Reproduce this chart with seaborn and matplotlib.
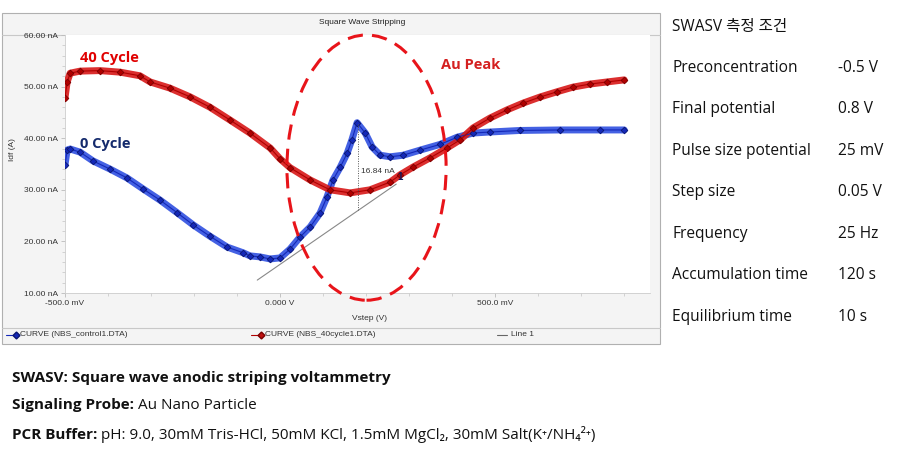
import numpy as np
import pandas as pd
import matplotlib
matplotlib.use("Agg")
import matplotlib.pyplot as plt
import seaborn as sns
from matplotlib.patches import Ellipse, Rectangle
from matplotlib.lines import Line2D
from matplotlib.ticker import FixedLocator, MultipleLocator

# ---------------- data ----------------
v_control = [-0.500, -0.495, -0.488, -0.465, -0.435, -0.395, -0.356, -0.319, -0.279,
             -0.240, -0.202, -0.163, -0.123, -0.086, -0.070, -0.047, -0.023, 0.000,
             0.023, 0.047, 0.070, 0.093, 0.109, 0.123, 0.140, 0.156, 0.167, 0.179,
             0.198, 0.214, 0.233, 0.256, 0.286, 0.326, 0.372, 0.412, 0.449, 0.488,
             0.558, 0.651, 0.744, 0.800]
i_control = [34.8, 37.7, 37.9, 37.3, 35.6, 34.0, 32.3, 30.2, 28.0,
             25.6, 23.2, 21.0, 18.9, 17.8, 17.2, 17.0, 16.6, 16.8,
             18.5, 20.9, 22.8, 25.5, 28.6, 31.9, 34.4, 37.1, 39.7, 43.0,
             41.0, 38.3, 36.7, 36.4, 36.7, 37.7, 38.8, 40.2, 41.0, 41.2,
             41.5, 41.6, 41.6, 41.6]

v_40cycle = [-0.500, -0.495, -0.488, -0.465, -0.419, -0.372, -0.326, -0.302, -0.256,
             -0.209, -0.163, -0.116, -0.070, -0.023, 0.000, 0.023, 0.070, 0.116,
             0.163, 0.209, 0.256, 0.279, 0.309, 0.349, 0.388, 0.419, 0.449, 0.488,
             0.528, 0.565, 0.605, 0.644, 0.681, 0.721, 0.760, 0.800]
i_40cycle = [47.8, 50.9, 52.6, 53.0, 53.1, 52.8, 52.1, 50.9, 49.7,
             48.0, 46.0, 43.5, 41.0, 38.1, 36.0, 34.3, 31.9, 30.0,
             29.4, 30.0, 31.5, 32.9, 34.4, 36.2, 38.1, 39.7, 42.0, 43.9,
             45.5, 46.8, 48.0, 49.0, 49.9, 50.5, 50.9, 51.3]

baseline_v = [-0.053, 0.270]
baseline_i = [12.5, 31.1]
peak_v = 0.181
peak_top = 43.0
peak_base = 26.0
peak_label = "16.84 nA"

x_major = [-0.5, 0.0, 0.5]
x_major_labels = ["-500.0 mV", "0.000 V", "500.0 mV"]
y_major = [10, 20, 30, 40, 50, 60]
y_major_labels = ["10.00 nA", "20.00 nA", "30.00 nA", "40.00 nA", "50.00 nA", "60.00 nA"]

series_names = ["CURVE (NBS_control1.DTA)", "CURVE (NBS_40cycle1.DTA)"]
cond_title = "SWASV 측정 조건"
cond_names = ["Preconcentration", "Final potential", "Pulse size potential",
              "Step size", "Frequency", "Accumulation time", "Equilibrium time"]
cond_values = ["-0.5 V", "0.8 V", "25 mV", "0.05 V", "25 Hz", "120 s", "10 s"]

# ---------------- figure ----------------
sns.set_theme(style="white")
plt.rcParams["font.family"] = ["Liberation Sans", "DejaVu Sans"]

W, H = 915, 451
fig = plt.figure(figsize=(W / 100, H / 100), dpi=100)
fig.patch.set_facecolor("white")


def fx(px):
    return px / W


def fy(py):
    return 1 - py / H


# chart panel
fig.add_artist(Rectangle((fx(2), fy(344)), fx(660) - fx(2), fy(13) - fy(344),
                         transform=fig.transFigure, facecolor="#f4f4f4",
                         edgecolor="#b0b0b0", lw=0.8, zorder=-5))
fig.add_artist(Line2D([fx(2), fx(660)], [fy(35), fy(35)], transform=fig.transFigure,
                      color="#c8c8c8", lw=0.8, zorder=-4))
fig.add_artist(Line2D([fx(2), fx(660)], [fy(328), fy(328)], transform=fig.transFigure,
                      color="#c8c8c8", lw=0.8, zorder=-4))
fig.text(fx(362), fy(23), "Square Wave Stripping", ha="center", va="center",
         fontsize=6, color="#222222")

ax = fig.add_axes([fx(65), fy(293), fx(650) - fx(65), fy(35) - fy(293)])
ax.set_facecolor("white")

df = pd.DataFrame({
    "V": v_control + v_40cycle,
    "I": i_control + i_40cycle,
    "curve": [series_names[0]] * len(v_control) + [series_names[1]] * len(v_40cycle),
})
band_pal = {series_names[0]: "#3050e0", series_names[1]: "#d81818"}
sns.lineplot(data=df, x="V", y="I", hue="curve", palette=band_pal, sort=False,
             estimator=None, lw=5, legend=False, ax=ax, zorder=3, alpha=0.9)
sns.lineplot(data=df, x="V", y="I", hue="curve", palette={series_names[0]: "#1428b8",
             series_names[1]: "#b00000"}, sort=False, estimator=None, lw=0.8,
             marker="D", markersize=3.4, markeredgewidth=0.6, legend=False, ax=ax,
             zorder=4)
for ln, ec in zip(ax.lines[-2:], ["#0a1670", "#7a0000"]):
    ln.set_markeredgecolor(ec)

# baseline and peak height
ax.plot(baseline_v, baseline_i, color="#888888", lw=0.8, zorder=5)
ax.plot([peak_v, peak_v], [peak_base, peak_top], color="#555555", lw=0.7,
        ls=(0, (1, 1.5)), zorder=5)
ax.text(peak_v + 0.006, 33.6, peak_label, fontsize=6, color="#333333", zorder=6,
        ha="left", va="center")
ax.text(0.272, 32.5, "1", fontsize=7, color="#101a60", zorder=6, ha="left",
        va="center", fontweight="bold")

ax.set_xlim(-0.5, 0.860)
ax.set_ylim(10, 60)
ax.xaxis.set_major_locator(FixedLocator(x_major))
ax.set_xticklabels(x_major_labels)
ax.xaxis.set_minor_locator(MultipleLocator(0.1))
ax.yaxis.set_major_locator(FixedLocator(y_major))
ax.set_yticklabels(y_major_labels)
ax.yaxis.set_minor_locator(MultipleLocator(2))
ax.tick_params(axis="both", which="major", labelsize=6, colors="#bbbbbb",
               labelcolor="#333333", length=3, width=0.6, direction="out", pad=2)
ax.tick_params(axis="both", which="minor", colors="#cccccc", length=2, width=0.6,
               direction="out")
ax.tick_params(axis="x", which="both", bottom=True)
ax.tick_params(axis="y", which="both", left=True)
for s in ["top", "right"]:
    ax.spines[s].set_visible(False)
for s in ["left", "bottom"]:
    ax.spines[s].set_color("#cccccc")
    ax.spines[s].set_linewidth(0.6)
ax.set_xlabel("")
ax.set_ylabel("")
fig.text(fx(370), fy(318), "Vstep (V)", ha="center", va="center", fontsize=6,
         color="#333333")
fig.text(fx(13), fy(150), "Idf (A)", ha="center", va="center", fontsize=6,
         color="#333333", rotation=90)

# annotations on chart
ann_font = ["Open Sans", "DejaVu Sans"]
ax.text(-0.465, 55.5, "40 Cycle", color="#e00000", fontsize=10.5, fontweight="bold",
        family=ann_font, ha="left", va="center", zorder=7)
ax.text(-0.465, 38.8, "0 Cycle", color="#142a6c", fontsize=10.5, fontweight="bold",
        family=ann_font, ha="left", va="center", zorder=7)
ax.text(0.375, 54.2, "Au Peak", color="#d42020", fontsize=10.5, fontweight="bold",
        family=ann_font, ha="left", va="center", zorder=7)
ell = Ellipse((0.201, 34.3), width=0.370, height=51.4, fill=False,
              edgecolor="#e8141a", lw=2.2, ls=(0, (5, 3)), clip_on=False, zorder=8)
ax.add_patch(ell)

# legend row
leg_y = fy(335)
fig.add_artist(Line2D([fx(6), fx(16)], [leg_y, leg_y], transform=fig.transFigure,
                      color="#1428b8", lw=0.8, marker="D", markersize=3.5,
                      markevery=[1], markerfacecolor="#1428b8",
                      markeredgecolor="#0a1670"))
fig.text(fx(20), leg_y, series_names[0], fontsize=6, color="#333333", va="center")
fig.add_artist(Line2D([fx(251), fx(261)], [leg_y, leg_y], transform=fig.transFigure,
                      color="#b00000", lw=0.8, marker="D", markersize=3.5,
                      markevery=[1], markerfacecolor="#c01010",
                      markeredgecolor="#7a0000"))
fig.text(fx(265), leg_y, series_names[1], fontsize=6, color="#333333", va="center")
fig.add_artist(Line2D([fx(497), fx(507)], [leg_y, leg_y], transform=fig.transFigure,
                      color="#666666", lw=0.8))
fig.text(fx(511), leg_y, "Line 1", fontsize=6, color="#333333", va="center")

# right-hand condition table
tab_font = ["Open Sans", "Noto Sans CJK KR", "DejaVu Sans"]
fig.text(fx(672), fy(27), cond_title, fontsize=11.2, family=tab_font,
         color="#111111", va="center", ha="left")
row_y = [68, 109, 151, 192, 234, 275, 317]
for yy, nm, val in zip(row_y, cond_names, cond_values):
    fig.text(fx(672), fy(yy), nm, fontsize=11.2, family=tab_font, color="#111111",
             va="center", ha="left")
    fig.text(fx(838), fy(yy), val, fontsize=11.2, family=tab_font, color="#111111",
             va="center", ha="left")

# bottom notes (bold prefix + regular remainder)
note_font = ["Open Sans", "DejaVu Sans"]
notes = [("SWASV: Square wave anodic striping voltammetry", "", 378),
         ("Signaling Probe:", " Au Nano Particle", 405),
         ("PCR Buffer:", " pH: 9.0, 30mM Tris-HCl, 50mM KCl, 1.5mM MgCl\u2082, 30mM Salt(K\u207a/NH\u2084\u00b2\u207a)", 435)]
fig.canvas.draw()
renderer = fig.canvas.get_renderer()
for bold, rest, yy in notes:
    tb = fig.text(fx(12), fy(yy + 4), bold, fontsize=11, fontweight="bold",
                  family=note_font, color="#111111", va="baseline", ha="left")
    if rest:
        bb = tb.get_window_extent(renderer)
        fig.text(bb.x1 / W, fy(yy + 4), rest, fontsize=11, family=note_font,
                 color="#111111", va="baseline", ha="left")

fig.savefig("out.png", dpi=100)
